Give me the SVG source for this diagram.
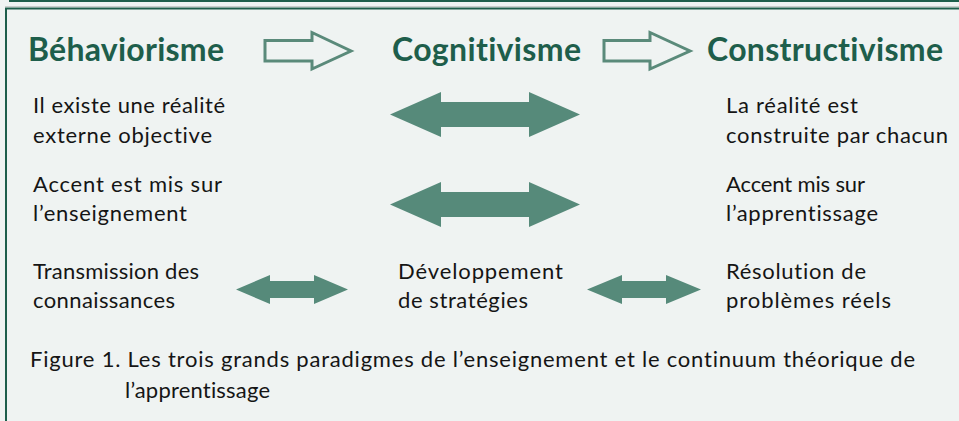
<svg xmlns="http://www.w3.org/2000/svg" width="959" height="421" viewBox="0 0 959 421">
<style>
text{font-variant-ligatures:none}
.h{font-family:Lato,"Open Sans",sans-serif;font-weight:bold;font-size:32px;fill:#1e5e4b}
.t{font-family:Lato,"Open Sans",sans-serif;font-size:22px;fill:#151515}
.c{font-family:Lato,"Open Sans",sans-serif;font-size:22px;fill:#151515}
.ho{fill:none;stroke:#5a8a7a;stroke-width:3}
.da{fill:#568a7a}
</style>
<rect width="959" height="421" fill="#eff3f2"/>
<g id="frame">
<line x1="9" y1="1" x2="959" y2="1" stroke="#1e5e4b" stroke-width="2"/>
<line x1="5" y1="6.5" x2="959" y2="6.5" stroke="#c8ccca" stroke-width="1"/>
<line x1="5" y1="8.5" x2="959" y2="8.5" stroke="#1e5e4b" stroke-width="2"/>
<line x1="6" y1="8" x2="6" y2="421" stroke="#1e5e4b" stroke-width="2"/>
</g>
<g id="behaviorisme"><text class="h" x="28" y="61" textLength="196">Béhaviorisme</text></g>
<g id="cognitivisme"><text class="h" x="392" y="61" textLength="189">Cognitivisme</text></g>
<g id="constructivisme"><text class="h" x="707" y="61" textLength="236">Constructivisme</text></g>
<g id="b1"><text class="t" x="33" y="113" textLength="192">Il existe une réalité</text><text class="t" x="33" y="143" textLength="179">externe objective</text></g>
<g id="c1"><text class="t" x="726" y="113" textLength="132">La réalité est</text><text class="t" x="726" y="143" textLength="222">construite par chacun</text></g>
<g id="b2"><text class="t" x="33" y="192" textLength="189">Accent est mis sur</text><text class="t" x="33" y="221" textLength="154">l’enseignement</text></g>
<g id="c2"><text class="t" x="726" y="192" textLength="139">Accent mis sur</text><text class="t" x="726" y="221" textLength="152">l’apprentissage</text></g>
<g id="b3"><text class="t" x="33" y="279" textLength="166">Transmission des</text><text class="t" x="33" y="308" textLength="142">connaissances</text></g>
<g id="m3"><text class="t" x="398" y="279" textLength="165">Développement</text><text class="t" x="398" y="308" textLength="130">de stratégies</text></g>
<g id="c3"><text class="t" x="726" y="279" textLength="140">Résolution de</text><text class="t" x="726" y="308" textLength="165">problèmes réels</text></g>
<g id="caption"><text class="c" x="30" y="367" textLength="885">Figure 1. Les trois grands paradigmes de l’enseignement et le continuum théorique de</text><text class="c" x="125" y="398" textLength="145">l’apprentissage</text></g>
<g id="connectors">
<path class="ho" d="M265,40.5 H312 V32.5 L351,51 L312,69 V61 H265 Z"/>
<path class="ho" d="M604,40.5 H650 V32.5 L690,51 L650,69 V61 H604 Z"/>
<path class="da" d="M390,114.5 L441,92 V102 H529 V92 L580,114.5 L529,137 V127 H441 V137 Z"/>
<path class="da" d="M390,204.5 L441,182 V192 H529 V182 L580,204.5 L529,227 V217 H441 V227 Z"/>
<path class="da" d="M236,289.5 L270,275 V281 H314 V275 L348,289.5 L314,304 V298 H270 V304 Z"/>
<path class="da" d="M587,289.5 L622,275 V281 H666 V275 L701,289.5 L666,304 V298 H622 V304 Z"/>
</g>
</svg>
